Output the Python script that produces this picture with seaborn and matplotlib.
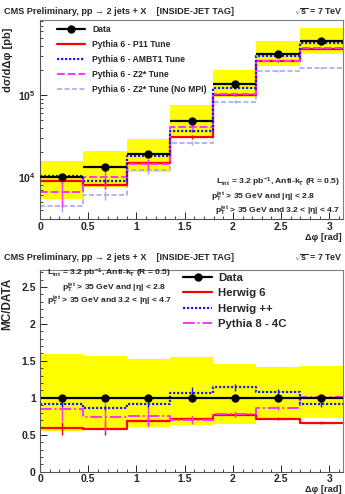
import numpy as np
import pandas as pd
import matplotlib
matplotlib.use("Agg")
import matplotlib.pyplot as plt
import seaborn as sns
from matplotlib.lines import Line2D
from matplotlib.ticker import LogLocator, MultipleLocator, NullFormatter, FixedLocator, FixedFormatter

# ---------------- data ----------------
edges = np.linspace(0, np.pi, 8)
centers = 0.5 * (edges[:-1] + edges[1:])

# top panel: d sigma / d delta phi [pb]
data_xs = [1.0e4, 1.31e4, 1.89e4, 4.86e4, 1.37e5, 3.2e5, 4.59e5]
data_xs_err = [0.05, 0.04, 0.03, 0.02, 0.02, 0.02, 0.02]      # relative stat
data_sys_hi = [1.58e4, 2.07e4, 2.9e4, 7.55e4, 2.02e5, 4.5e5, 6.57e5]
data_sys_lo = [5.35e3, 7.5e3, 1.14e4, 3.02e4, 9.5e4, 2.24e5, 3.16e5]
p11 = [8.86e3, 8.0e3, 1.49e4, 3.10e4, 1.0e5, 2.57e5, 3.67e5]
p11_err = [0.08, 0.1, 0.08, 0.05, 0.03, 0.02, 0.02]
ambt1 = [1.03e4, 9.0e3, 1.82e4, 3.6e4, 1.2e5, 2.97e5, 4.3e5]
ambt1_err = [0.06, 0.05, 0.04, 0.03, 0.02, 0.02, 0.02]
z2 = [6.62e3, 1.01e4, 1.44e4, 4.1e4, 1.02e5, 2.6e5, 3.7e5]
z2_err = [0.35, 0.3, 0.15, 0.1, 0.05, 0.04, 0.03]
z2_nompi = [4.43e3, 6.0e3, 1.22e4, 2.6e4, 8.3e4, 1.98e5, 2.13e5]
z2_nompi_err = [0.15, 0.12, 0.1, 0.06, 0.04, 0.03, 0.03]

# bottom panel: MC / DATA
ratio_data = [1.0, 1.0, 1.0, 1.0, 1.0, 1.0, 1.0]
ratio_data_err = [0.04, 0.04, 0.03, 0.03, 0.03, 0.03, 0.03]
ratio_sys_hi = [1.59, 1.56, 1.53, 1.55, 1.46, 1.42, 1.43]
ratio_sys_lo = [0.55, 0.57, 0.61, 0.63, 0.64, 0.73, 0.73]
herwig6 = [0.585, 0.58, 0.69, 0.72, 0.765, 0.715, 0.665]
herwig6_err = [0.09, 0.09, 0.06, 0.04, 0.03, 0.02, 0.02]
herwigpp = [0.91, 0.86, 0.91, 1.07, 1.14, 1.08, 0.915]
herwigpp_err = [0.03, 0.03, 0.03, 0.07, 0.05, 0.04, 0.04]
pythia8 = [0.85, 0.74, 0.76, 0.70, 0.775, 0.865, 1.01]
pythia8_err = [0.17, 0.19, 0.15, 0.06, 0.04, 0.03, 0.03]

# ---------------- style ----------------
sns.set_style("ticks")
plt.rcParams["font.family"] = ["Liberation Sans", "DejaVu Sans"]
plt.rcParams["font.weight"] = "bold"
plt.rcParams["mathtext.fontset"] = "custom"
plt.rcParams["mathtext.rm"] = "Liberation Sans:bold"
plt.rcParams["mathtext.it"] = "Liberation Sans:bold"
plt.rcParams["mathtext.bf"] = "Liberation Sans:bold"
plt.rcParams["mathtext.sf"] = "Liberation Sans:bold"

W, H = 345, 494
fig = plt.figure(figsize=(W / 100, H / 100), dpi=100)
ax1 = fig.add_axes([40 / W, 1 - 219 / H, 303 / W, 199 / H])
ax2 = fig.add_axes([40 / W, 1 - 471.7 / H, 303 / W, 201.7 / H])

RED = "#ff0000"
BLUE = "#1a1aff"
MAG = "#ff33ff"
LAV = "#a8a8f0"
YEL = "#ffff00"


def step_line(ax, vals, color, ls, lw, errs=None, rel=True):
    df = pd.DataFrame({"x": edges, "y": list(vals) + [vals[-1]]})
    sns.lineplot(data=df, x="x", y="y", ax=ax, color=color, linestyle=ls, lw=lw,
                 drawstyle="steps-post", estimator=None, sort=False, legend=False)
    if errs is not None:
        v = np.array(vals)
        e = np.array(errs) * (v if rel else 1)
        ax.errorbar(centers, v, yerr=e, fmt="none", ecolor=color, elinewidth=1.0,
                    capsize=0, ls=ls)


ANN = 6.1

# ---------------- top panel ----------------
ax1.fill_between(edges, list(data_sys_lo) + [data_sys_lo[-1]],
                 list(data_sys_hi) + [data_sys_hi[-1]], step="post",
                 color=YEL, lw=0, zorder=0)
step_line(ax1, z2_nompi, LAV, (0, (3, 1.5)), 1.2, z2_nompi_err)
step_line(ax1, p11, RED, "-", 1.6, p11_err)
step_line(ax1, z2, MAG, (0, (4, 1.5)), 1.4, z2_err)
step_line(ax1, ambt1, BLUE, (0, (1, 0.8)), 1.6, ambt1_err)
dx = 0.5 * (edges[1] - edges[0])
ax1.errorbar(centers, data_xs, xerr=dx, yerr=np.array(data_xs_err) * np.array(data_xs),
             fmt="o", color="black", ms=5, elinewidth=1.6, capsize=0, zorder=5)

ax1.set_yscale("log")
ax1.set_xlim(0, np.pi)
ax1.set_ylim(3077, 8.2e5)
ax1.yaxis.set_major_locator(FixedLocator([1e4, 1e5]))
ax1.yaxis.set_major_formatter(FixedFormatter([r"10$^{4}$", r"10$^{5}$"]))
ax1.yaxis.set_minor_locator(LogLocator(base=10, subs=np.arange(2, 10)))
ax1.yaxis.set_minor_formatter(NullFormatter())
ax1.set_ylabel("dσ/dΔφ [pb]", fontsize=8, fontweight="bold")
ax1.yaxis.set_label_coords(-0.088, 0.80)

# legend top
h_top = [
    Line2D([], [], color="black", lw=1.6, marker="o", ms=5),
    Line2D([], [], color=RED, lw=1.6),
    Line2D([], [], color=BLUE, lw=1.6, ls=(0, (1, 0.8))),
    Line2D([], [], color=MAG, lw=1.4, ls=(0, (4, 1.5))),
    Line2D([], [], color=LAV, lw=1.2, ls=(0, (3, 1.5))),
]
l_top = ["Data", "Pythia 6 - P11 Tune", "Pythia 6 - AMBT1 Tune",
         "Pythia 6 - Z2* Tune", "Pythia 6 - Z2* Tune (No MPI)"]
ax1.legend(h_top, l_top, loc="upper left", bbox_to_anchor=(0.045, 0.99), frameon=False,
           fontsize=6.2, handlelength=3.25, handletextpad=0.8, labelspacing=0.69,
           borderaxespad=0.0)

ax1.text(0.99, 0.185, r"L$_{int}$ = 3.2 pb$^{-1}$, Anti-k$_{T}$ (R = 0.5)",
         transform=ax1.transAxes, ha="right", va="center", fontsize=ANN)
ax1.text(0.907, 0.112, r"p$_{T}^{jet}$ > 35 GeV and |η| < 2.8",
         transform=ax1.transAxes, ha="right", va="center", fontsize=ANN)
ax1.text(0.99, 0.042, r"p$_{T}^{jet}$ > 35 GeV and 3.2 < |η| < 4.7",
         transform=ax1.transAxes, ha="right", va="center", fontsize=ANN)

# ---------------- bottom panel ----------------
ax2.fill_between(edges, list(ratio_sys_lo) + [ratio_sys_lo[-1]],
                 list(ratio_sys_hi) + [ratio_sys_hi[-1]], step="post",
                 color=YEL, lw=0, zorder=0)
step_line(ax2, herwig6, RED, "-", 1.6, herwig6_err, rel=False)
step_line(ax2, pythia8, MAG, (0, (6, 1.5, 1, 1.5)), 1.4, pythia8_err, rel=False)
step_line(ax2, herwigpp, BLUE, (0, (1, 0.8)), 1.6, herwigpp_err, rel=False)
step_line(ax2, ratio_data, "black", "-", 1.6)
ax2.errorbar(centers, ratio_data, yerr=ratio_data_err, fmt="o", color="black", ms=5,
             elinewidth=1.4, capsize=0, zorder=5)
ax2.set_xlim(0, np.pi)
ax2.set_ylim(0, 2.73)
ax2.yaxis.set_major_locator(MultipleLocator(0.5))
ax2.yaxis.set_minor_locator(MultipleLocator(0.1))
ax2.yaxis.set_major_formatter(matplotlib.ticker.FuncFormatter(lambda v, p: f"{v:g}"))
ax2.set_ylabel("MC/DATA", fontsize=8.5, fontweight="bold")
ax2.yaxis.set_label_coords(-0.088, 0.83)

h_bot = [
    Line2D([], [], color="black", lw=1.6, marker="o", ms=5),
    Line2D([], [], color=RED, lw=1.6),
    Line2D([], [], color=BLUE, lw=1.6, ls=(0, (1, 0.8))),
    Line2D([], [], color=MAG, lw=1.4, ls=(0, (6, 1.5, 1, 1.5))),
]
l_bot = ["Data", "Herwig 6", "Herwig ++", "Pythia 8 - 4C"]
ax2.legend(h_bot, l_bot, loc="upper left", bbox_to_anchor=(0.457, 1.006), frameon=False,
           fontsize=8.2, handlelength=2.55, handletextpad=0.53, labelspacing=0.45,
           borderaxespad=0.0)

ax2.text(0.023, 0.982, r"L$_{int}$ = 3.2 pb$^{-1}$, Anti-k$_{T}$ (R = 0.5)",
         transform=ax2.transAxes, ha="left", va="center", fontsize=ANN)
ax2.text(0.073, 0.914, r"p$_{T}^{jet}$ > 35 GeV and |η| < 2.8",
         transform=ax2.transAxes, ha="left", va="center", fontsize=ANN)
ax2.text(0.023, 0.846, r"p$_{T}^{jet}$ > 35 GeV and 3.2 < |η| < 4.7",
         transform=ax2.transAxes, ha="left", va="center", fontsize=ANN)

# ---------------- common axis styling ----------------
for ax, yl in ((ax1, -0.07), (ax2, -0.064)):
    ax.xaxis.set_major_locator(MultipleLocator(0.5))
    ax.xaxis.set_minor_locator(MultipleLocator(0.1))
    ax.xaxis.set_major_formatter(matplotlib.ticker.FuncFormatter(lambda v, p: f"{v:g}"))
    ax.tick_params(which="major", direction="in", length=5, width=0.7, labelsize=7.5,
                   top=False, right=False, pad=3)
    ax.tick_params(axis="x", which="major", pad=2)
    ax.tick_params(which="minor", direction="in", length=2.5, width=0.6,
                   top=False, right=False)
    for lab in ax.get_xticklabels() + ax.get_yticklabels():
        lab.set_fontweight("bold")
    for s in ("top", "right"):
        ax.spines[s].set_color("#808080")
        ax.spines[s].set_linewidth(0.8)
    for s in ("left", "bottom"):
        ax.spines[s].set_color("#555555")
        ax.spines[s].set_linewidth(0.8)
    ax.set_xlabel("Δφ [rad]", fontsize=6.7, fontweight="bold")
    ax.xaxis.set_label_coords(0.995, yl)
    ax.xaxis.label.set_ha("right")

# titles
TT = 6.6
fig.text(4 / W, 1 - 11 / H, "CMS Preliminary, pp → 2 jets + X    [INSIDE-JET TAG]",
         fontsize=TT, ha="left", va="center")
fig.text(343 / W, 1 - 12 / H, r"$\sqrt{s}$ = 7 TeV", fontsize=6.4, ha="right", va="center")
fig.text(4 / W, 1 - 257 / H, "CMS Preliminary, pp → 2 jets + X    [INSIDE-JET TAG]",
         fontsize=TT, ha="left", va="center")
fig.text(343 / W, 1 - 258 / H, r"$\sqrt{s}$ = 7 TeV", fontsize=6.4, ha="right", va="center")

fig.savefig("out.png", dpi=100)
